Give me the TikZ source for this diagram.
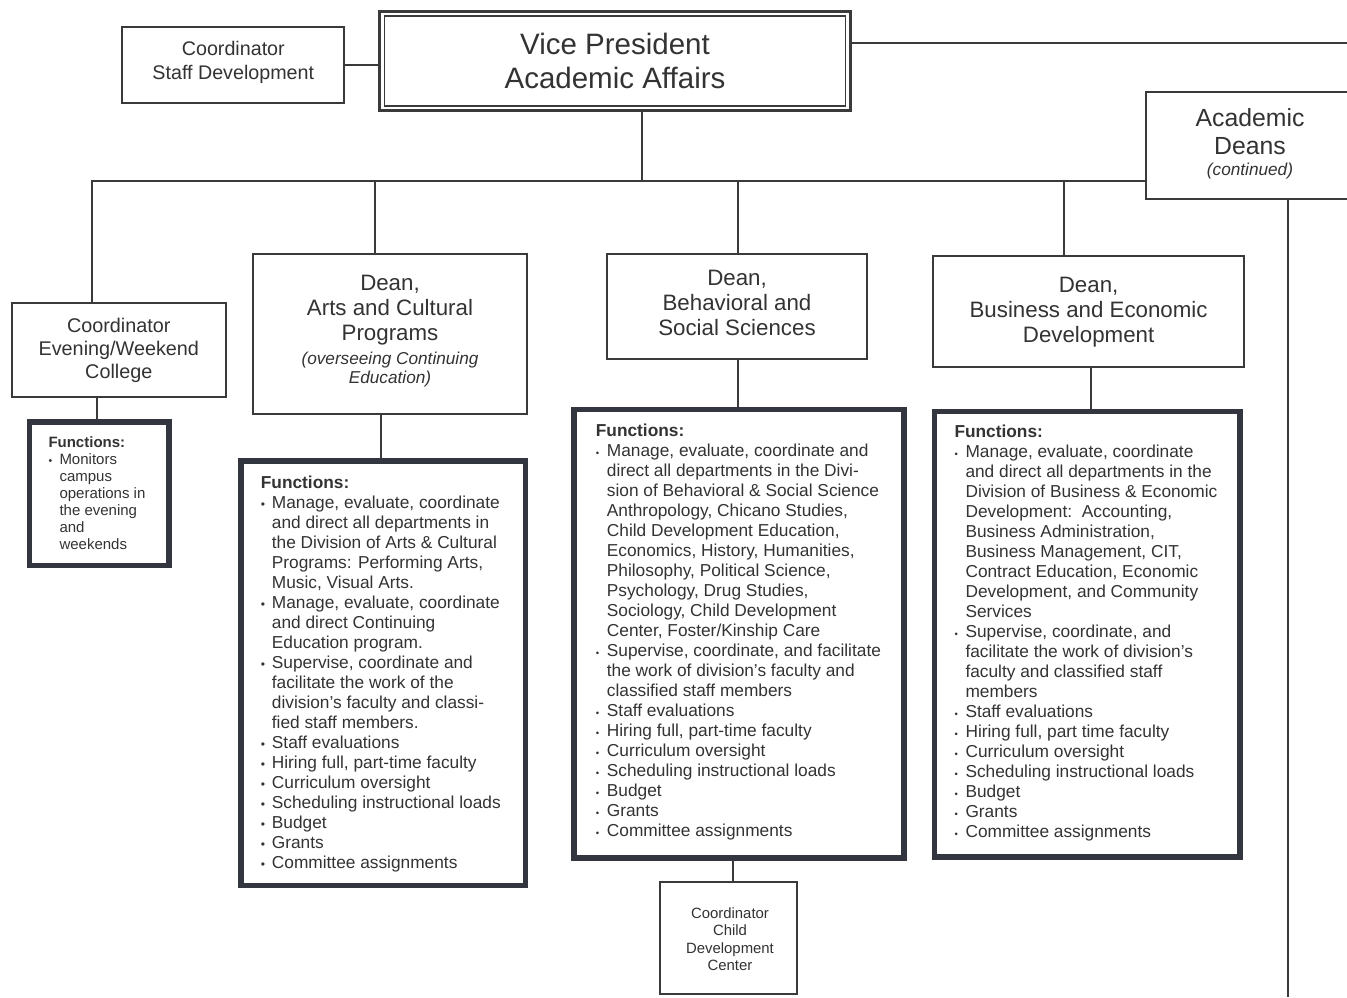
\documentclass[tikz,border=0pt]{standalone}
\usepackage{fontspec}
\setmainfont{Liberation Sans}
\usetikzlibrary{fit}

\definecolor{ink}{HTML}{333333}
\definecolor{rule}{HTML}{3A3A3A}
\definecolor{heavy}{HTML}{34363F}

% font size / baseline skip in one go
\newcommand\fsz[2]{\fontsize{#1}{#2}\selectfont}
% bullet item start and continuation indent for the function lists
\newcommand\bul[1]{\makebox[11pt][l]{\scalebox{#1}{\textbullet}}}
\newcommand\bi{\bul{0.7}}
\newcommand\bs{\bul{0.55}}
\newcommand\ind{\hspace*{11pt}}

\tikzset{
  orgbox/.style={draw=rule, line width=2pt, fill=white, inner sep=0pt},
  fnbox/.style={draw=heavy, line width=5.5pt, fill=white, inner sep=0pt},
  wire/.style={draw=rule, line width=2pt},
  lbl/.style={inner sep=0pt, text=ink, align=center, anchor=north},
  fn/.style={inner sep=0pt, text=ink, align=left, anchor=north west},
}

\begin{document}
\begin{tikzpicture}[x=1pt,y=-1pt]
\clip (0,0) rectangle (1347,997);
\fill[white] (0,0) rectangle (1347,997);

% ---- connector anchor points on the bus and at the page edges
\coordinate (busL)   at (91.7,180.5);
\coordinate (vpdrop) at (641.7,180.5);
\coordinate (tArts)  at (375,180.5);
\coordinate (tBeh)   at (738.3,180.5);
\coordinate (tBus)   at (1064.3,180.5);
\coordinate (edgeR)  at (1347,42.7);
\coordinate (edgeB)  at (1288,997);

% ---- boxes
\node[orgbox, fit={(122.3,27.3) (344.3,103.3)}] (staff) {};
\node[draw=rule, line width=3pt, fill=white, inner sep=0pt, fit={(379.8,11.5) (850.2,110.2)}] (vp) {};
\node[draw=rule, line width=1.6pt, inner sep=0pt, fit={(384.5,16) (845.5,106)}] (vpin) {};
\node[orgbox, fit={(1146,91.7) (1400,199)}] (deans) {};
\node[orgbox, fit={(11.7,302.7) (226,397.3)}] (eve) {};
\node[fnbox, fit={(29.5,422) (169,565.5)}] (eveF) {};
\node[orgbox, fit={(252.7,254) (527.3,414)}] (arts) {};
\node[fnbox, fit={(241,461) (525.6,885.7)}] (artsF) {};
\node[orgbox, fit={(607.3,254) (867.3,359.3)}] (behav) {};
\node[fnbox, fit={(574,409.7) (904,858)}] (behF) {};
\node[orgbox, fit={(660,882.3) (797.3,994)}] (child) {};
\node[orgbox, fit={(933.3,256) (1244,366.7)}] (bus) {};
\node[fnbox, fit={(934.5,411.5) (1240,857)}] (busF) {};

% ---- connectors
\draw[wire] (busL |- eve.north) -- (busL) -- (busL -| deans.west);
\draw[wire] (vpdrop |- vp.south) -- (vpdrop);
\draw[wire] (tArts) -- (tArts |- arts.north);
\draw[wire] (tBeh) -- (tBeh |- behav.north);
\draw[wire] (tBus) -- (tBus |- bus.north);
\draw[wire] (staff.east) -- (staff.east -| vp.west);
\draw[wire] (vp.east |- edgeR) -- (edgeR);
\draw[wire] (edgeB |- deans.south) -- (edgeB);
\draw[wire] ([xshift=-22.1pt]eve.south) -- ([xshift=-22.1pt]eve.south |- eveF.north);
\draw[wire] ([xshift=-9.3pt]arts.south) -- ([xshift=-9.3pt]arts.south |- artsF.north);
\draw[wire] ([xshift=1pt]behav.south) -- ([xshift=1pt]behav.south |- behF.north);
\draw[wire] ([xshift=2pt]bus.south) -- ([xshift=2pt]bus.south |- busF.north);
\draw[wire] ([xshift=-6.3pt]behF.south) -- ([xshift=-6.3pt]behF.south |- child.north);

% ---- titles
\node[lbl, font=\fsz{29.5}{34}] (vpT) at (615,33) {Vice President\\Academic Affairs};
\node[lbl, font=\fsz{19.7}{23.3}] (staffT) at (233.3,41.5) {Coordinator\\Staff Development};
\node[lbl, font=\fsz{24.8}{28}] (deansT) at (1250,108.3) {Academic\\Deans};
\node[inner sep=0pt, text=ink, anchor=base, font=\fsz{17.2}{20}\itshape] (deansC) at (1250,175.7) {(continued)};
\node[lbl, font=\fsz{19.8}{23}] (eveT) at (118.8,318) {Coordinator\\Evening/Weekend\\College};
\node[lbl, font=\fsz{22.3}{25}] (artsT) at (390,274.5) {Dean,\\Arts and Cultural\\Programs};
\node[lbl, font=\fsz{17.2}{19.5}\itshape] (artsC) at (390,351.5) {(overseeing Continuing\\Education)};
\node[lbl, font=\fsz{22.3}{25}] (behavT) at (737,270) {Dean,\\Behavioral and\\Social Sciences};
\node[lbl, font=\fsz{22.3}{25}] (busT) at (1088.6,276.5) {Dean,\\Business and Economic\\Development};
\node[lbl, font=\fsz{14.9}{17.3}] (childT) at (730,907.5) {Coordinator\\Child\\Development\\Center};

% ---- function lists
\node[fn, font=\fsz{15}{17.1}] (eveL) at (48.3,436) {%
\textbf{Functions:}\\
\bi Monitors\\
\ind campus\\
\ind operations in\\
\ind the evening\\
\ind and\\
\ind weekends};

\node[fn, font=\fsz{17.3}{20}] (artsL) at (260.7,475.9) {%
\textbf{Functions:}\\
\bi Manage, evaluate, coordinate\\
\ind and direct all departments in\\
\ind the Division of Arts \& Cultural\\
\ind Programs: Performing Arts,\\
\ind Music, Visual Arts.\\
\bi Manage, evaluate, coordinate\\
\ind and direct Continuing\\
\ind Education program.\\
\bi Supervise, coordinate and\\
\ind facilitate the work of the\\
\ind division's faculty and classi-\\
\ind fied staff members.\\
\bi Staff evaluations\\
\bi Hiring full, part-time faculty\\
\bi Curriculum oversight\\
\bi Scheduling instructional loads\\
\bi Budget\\
\bi Grants\\
\bi Committee assignments};

\node[fn, font=\fsz{17.3}{20}] (behL) at (595.7,423.6) {%
\textbf{Functions:}\\
\bs Manage, evaluate, coordinate and\\
\ind direct all departments in the Divi-\\
\ind sion of Behavioral \& Social Science\\
\ind Anthropology, Chicano Studies,\\
\ind Child Development Education,\\
\ind Economics, History, Humanities,\\
\ind Philosophy, Political Science,\\
\ind Psychology, Drug Studies,\\
\ind Sociology, Child Development\\
\ind Center, Foster/Kinship Care\\
\bs Supervise, coordinate, and facilitate\\
\ind the work of division's faculty and\\
\ind classified staff members\\
\bs Staff evaluations\\
\bs Hiring full, part-time faculty\\
\bs Curriculum oversight\\
\bs Scheduling instructional loads\\
\bs Budget\\
\bs Grants\\
\bs Committee assignments};

\node[fn, font=\fsz{17.3}{20}] (busL) at (954.3,424.9) {%
\textbf{Functions:}\\
\bs Manage, evaluate, coordinate\\
\ind and direct all departments in the\\
\ind Division of Business \& Economic\\
\ind Development:\ \ Accounting,\\
\ind Business Administration,\\
\ind Business Management, CIT,\\
\ind Contract Education, Economic\\
\ind Development, and Community\\
\ind Services\\
\bs Supervise, coordinate, and\\
\ind facilitate the work of division's\\
\ind faculty and classified staff\\
\ind members\\
\bs Staff evaluations\\
\bs Hiring full, part time faculty\\
\bs Curriculum oversight\\
\bs Scheduling instructional loads\\
\bs Budget\\
\bs Grants\\
\bs Committee assignments};
\end{tikzpicture}
\end{document}
